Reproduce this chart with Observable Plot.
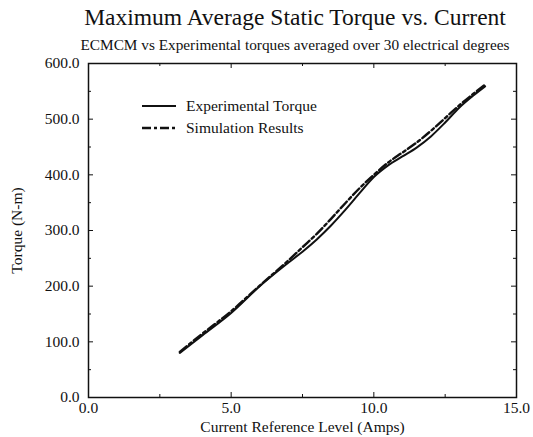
<!DOCTYPE html>
<html><head><meta charset="utf-8">
<script src="https://cdn.jsdelivr.net/npm/d3@7"></script>
<script src="https://cdn.jsdelivr.net/npm/@observablehq/plot@0.6"></script>
<style>
body{margin:0;background:#fff;font-family:"Liberation Serif","DejaVu Serif",serif;}
#wrap{position:relative;width:533px;height:437px;}
#title{position:absolute;left:0;top:4px;width:590px;text-align:center;font-size:23.5px;color:#111;}
#sub{position:absolute;left:0;top:36px;width:590px;text-align:center;font-size:15.3px;color:#111;}
#chart{position:absolute;left:0;top:55px;}
#legend{position:absolute;left:140px;top:95px;font-size:15.5px;color:#111;line-height:22px;}
#legend div{display:flex;align-items:center;}
#legend svg{margin-right:8px;}
</style></head>
<body><div id="wrap">
<div id="title">Maximum Average Static Torque vs. Current</div>
<div id="sub">ECMCM vs Experimental torques averaged over 30 electrical degrees</div>
<div id="chart"></div>
<div id="legend">
<div><svg width="38" height="8"><line x1="2" x2="36" y1="4" y2="4" stroke="#111" stroke-width="2"/></svg>Experimental Torque</div>
<div><svg width="38" height="8"><line x1="2" x2="36" y1="4" y2="4" stroke="#111" stroke-width="2.4" stroke-dasharray="9,3,3,3"/></svg>Simulation Results</div>
</div>
</div>
<script>
const current = [3.2, 4.0, 5.0, 6.0, 7.0, 7.5, 8.0, 8.5, 9.0, 9.5, 10.0, 10.5, 11.0, 11.5, 12.0, 12.5, 13.0, 13.5, 13.9];
const experimental = [80, 112, 152, 200, 242, 262, 284, 309, 337, 367, 396, 417, 433, 449, 469, 494, 521, 543, 559];
const simulation = [82, 115, 155, 201, 246, 270, 294, 321, 349, 376, 400, 422, 440, 458, 479, 502, 525, 546, 562];
const yMajor = [0, 100, 200, 300, 400, 500, 600];
const yMinor = [50, 150, 250, 350, 450, 550];
const xMajor = [0, 5, 10, 15];
const xMinor = [2.5, 7.5, 12.5];

const W = 533, H = 382, mL = 88, mR = 17, mT = 8, mB = 40;
const pw = W - mL - mR, ph = H - mT - mB;
const exp = current.map((c, i) => ({c, v: experimental[i]}));
const sim = current.map((c, i) => ({c, v: simulation[i]}));
const fmt = d3.format(".1f");
const font = "'Liberation Serif','DejaVu Serif',serif";

const chart = Plot.plot({
  width: W, height: H, marginLeft: mL, marginRight: mR, marginTop: mT, marginBottom: mB,
  style: {fontFamily: font, fontSize: "15.5px", color: "#111", background: "#fff", overflow: "visible"},
  x: {domain: [0, 15]},
  y: {domain: [0, 600]},
  marks: [
    Plot.axisX({ticks: xMajor, tickFormat: fmt, tickSize: 0, tickPadding: 4, label: "Current Reference Level (Amps)", labelAnchor: "center", labelArrow: "none", labelOffset: 34, fontSize: 15.5}),
    Plot.axisY({ticks: yMajor, tickFormat: fmt, tickSize: 0, tickPadding: 9, label: "Torque (N-m)", labelAnchor: "center", labelArrow: "none", labelOffset: 78, fontSize: 15.5}),
    Plot.frame({stroke: "#111", strokeWidth: 1.5}),
    Plot.tickY(yMajor, {y: d => d, insetRight: pw - 5, stroke: "#111"}),
    Plot.tickY(yMinor, {y: d => d, insetRight: pw - 3, stroke: "#111"}),
    Plot.tickY(yMajor, {y: d => d, insetLeft: pw - 5, stroke: "#111"}),
    Plot.tickY(yMinor, {y: d => d, insetLeft: pw - 3, stroke: "#111"}),
    Plot.tickX(xMajor, {x: d => d, insetTop: ph - 5, stroke: "#111"}),
    Plot.tickX(xMinor, {x: d => d, insetTop: ph - 3, stroke: "#111"}),
    Plot.tickX(xMajor, {x: d => d, insetBottom: ph - 5, stroke: "#111"}),
    Plot.tickX(xMinor, {x: d => d, insetBottom: ph - 3, stroke: "#111"}),
    Plot.line(exp, {x: "c", y: "v", stroke: "#111", strokeWidth: 2, curve: "monotone-x"}),
    Plot.line(sim, {x: "c", y: "v", stroke: "#111", strokeWidth: 2.4, strokeDasharray: "9,3,3,3", curve: "monotone-x"})
  ]
});
document.getElementById("chart").appendChild(chart);
</script>
</body></html>
